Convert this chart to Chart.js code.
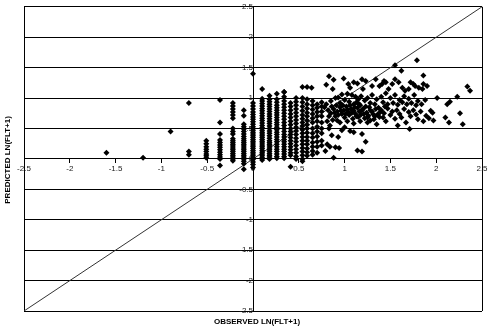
<!DOCTYPE html>
<html>
<head>
<meta charset="utf-8">
<script src="https://cdn.jsdelivr.net/npm/chart.js@4"></script>
<style>
  html, body { margin: 0; padding: 0; background: #fff; }
  #wrap { width: 498px; height: 332px; }
</style>
</head>
<body>
<div id="wrap"><canvas id="chart" width="498" height="332"></canvas></div>
<script>
// ─── Data ────────────────────────────────────────────────────────────────────

const X_TITLE = 'OBSERVED LN(FLT+1)';
const Y_TITLE = 'PREDICTED LN(FLT+1)';

const tickValues = [-2.5, -2, -1.5, -1, -0.5, 0, 0.5, 1, 1.5, 2, 2.5];
const tickLabels = ['-2.5', '-2', '-1.5', '-1', '-0.5', '0', '0.5', '1', '1.5', '2', '2.5'];

// 1:1 reference line
const diagX = [-2.5, 2.5];
const diagY = [-2.5, 2.5];

// vertical stacks of points (discrete observed values)
const colX = [-0.7, -0.51, -0.36, -0.22, -0.1, 0, 0.1, 0.18, 0.26, 0.34, 0.41, 0.47, 0.54, 0.59, 0.65, 0.7, 0.75];
const colY = [
  [0.92, 0.12, 0.07],
  [0.3, 0.25, 0.2, 0.16, 0.12, 0.08, 0.05, 0.02],
  [0.97, 0.6, 0.41, 0.31, 0.27, 0.23, 0.19, 0.15, 0.11, 0.07, 0.03, 0.0, -0.11],
  [0.92, 0.87, 0.82, 0.77, 0.72, 0.67, 0.5, 0.45, 0.41, 0.33, 0.3, 0.27, 0.24, 0.21, 0.18, 0.15, 0.12, 0.09, 0.06, 0.03, 0.0, -0.03],
  [0.8, 0.71, 0.57, 0.53, 0.49, 0.45, 0.41, 0.37, 0.33, 0.3, 0.27, 0.24, 0.21, 0.18, 0.15, 0.12, 0.09, 0.06, 0.03, 0.0, -0.04, -0.08, -0.17],
  [1.4, 0.92, 0.87, 0.82, 0.77, 0.73, 0.69, 0.65, 0.61, 0.57, 0.53, 0.5, 0.47, 0.44, 0.41, 0.38, 0.35, 0.32, 0.29, 0.26, 0.23, 0.2, 0.17, 0.14, 0.11, 0.08, 0.05, 0.02, -0.01, -0.05, -0.09, -0.14],
  [1.15, 0.99, 0.95, 0.91, 0.87, 0.83, 0.79, 0.75, 0.71, 0.67, 0.63, 0.59, 0.55, 0.51, 0.47, 0.44, 0.41, 0.38, 0.35, 0.32, 0.29, 0.26, 0.23, 0.2, 0.17, 0.14, 0.11, 0.08, 0.05, 0.02, -0.02],
  [1.04, 0.98, 0.94, 0.9, 0.86, 0.82, 0.78, 0.74, 0.7, 0.66, 0.62, 0.58, 0.54, 0.5, 0.46, 0.42, 0.38, 0.34, 0.3, 0.27, 0.24, 0.21, 0.18, 0.15, 0.12, 0.09, 0.06, 0.03, 0.0],
  [1.07, 0.98, 0.93, 0.88, 0.84, 0.8, 0.76, 0.72, 0.68, 0.64, 0.6, 0.56, 0.52, 0.48, 0.44, 0.4, 0.36, 0.32, 0.28, 0.24, 0.2, 0.16, 0.12, 0.08, 0.04, 0.01],
  [1.1, 1.02, 0.95, 0.9, 0.85, 0.8, 0.75, 0.7, 0.65, 0.6, 0.55, 0.5, 0.45, 0.4, 0.36, 0.32, 0.28, 0.24, 0.2, 0.16, 0.12, 0.08, 0.04, 0.01],
  [0.92, 0.86, 0.8, 0.74, 0.68, 0.62, 0.56, 0.5, 0.45, 0.4, 0.35, 0.3, 0.25, 0.2, 0.15, 0.1, 0.06, -0.13],
  [1.0, 0.94, 0.88, 0.82, 0.76, 0.7, 0.64, 0.58, 0.52, 0.46, 0.4, 0.34, 0.28, 0.22, 0.16, 0.1, 0.04, 0.0],
  [1.18, 1.0, 0.93, 0.86, 0.79, 0.72, 0.66, 0.6, 0.54, 0.48, 0.42, 0.36, 0.3, 0.24, 0.18, 0.12, 0.06, 0.0, -0.04],
  [1.18, 0.98, 0.9, 0.83, 0.76, 0.7, 0.63, 0.56, 0.5, 0.43, 0.36, 0.3, 0.24, 0.17, 0.11, 0.05],
  [0.95, 0.88, 0.81, 0.74, 0.67, 0.6, 0.5, 0.42, 0.35, 0.27, 0.2, 0.13, 0.07],
  [0.9, 0.84, 0.77, 0.7, 0.62, 0.53, 0.45, 0.37, 0.28, 0.2, 0.1],
  [0.93, 0.86, 0.78, 0.7, 0.6, 0.5, 0.42, 0.3, 0.22]
];

// scattered points [observed, predicted]
const cloud = [
  [-1.6, 0.1], [-1.2, 0.02], [-0.9, 0.45],
  [0.34, 1.1], [0.64, 1.17], [0.83, 1.36], [0.88, 1.3], [0.8, 1.22], [0.87, 1.15],
  [0.99, 1.32], [1.1, 1.26], [1.06, 1.17], [1.04, 1.23], [1.14, 1.24], [1.19, 1.31],
  [1.23, 1.28], [1.34, 1.31], [1.3, 1.2], [1.38, 1.2], [1.43, 1.28], [1.45, 1.26],
  [1.41, 1.23], [1.55, 1.54], [1.62, 1.45], [1.79, 1.62], [1.86, 1.37], [1.55, 1.31],
  [1.59, 1.26], [1.52, 1.23], [1.72, 1.26], [1.75, 1.23], [1.77, 1.2], [1.81, 1.17],
  [1.86, 1.23], [1.9, 1.2], [1.85, 1.15], [1.7, 1.15], [1.66, 1.12], [1.63, 1.17],
  [2.34, 1.19], [2.37, 1.12], [1.48, 1.15], [1.2, 1.15], [0.97, 1.06], [0.93, 1.01],
  [2.01, 1.0], [2.12, 0.9], [2.15, 0.94], [2.23, 1.02], [1.03, 1.07], [1.08, 1.05],
  [1.12, 1.02], [1.15, 0.98], [1.18, 1.03], [1.22, 0.96], [1.25, 1.0], [1.3, 1.05],
  [1.35, 0.98], [1.4, 1.02], [1.45, 1.08], [1.5, 1.0], [1.55, 1.05], [1.6, 0.97],
  [1.65, 1.03], [1.7, 0.99], [1.76, 1.05], [1.8, 0.95], [1.88, 0.97], [0.85, 0.95],
  [0.9, 1.0], [0.95, 0.92], [1.0, 0.97], [1.05, 0.94], [1.1, 0.9], [1.13, 0.93],
  [1.17, 0.88], [1.28, 0.92], [1.33, 0.9], [1.42, 0.93], [1.47, 0.9], [1.53, 0.92],
  [1.58, 0.89], [1.63, 0.93], [1.68, 0.9], [1.73, 0.92], [1.78, 0.88], [1.84, 0.9],
  [0.78, 0.85], [0.82, 0.8], [0.85, 0.75], [0.88, 0.82], [0.9, 0.7], [0.92, 0.78],
  [0.95, 0.85], [0.97, 0.74], [0.99, 0.8], [1.0, 0.68], [1.02, 0.86], [1.04, 0.77],
  [1.05, 0.72], [1.07, 0.82], [1.09, 0.66], [1.1, 0.79], [1.12, 0.74], [1.14, 0.84],
  [1.15, 0.69], [1.16, 0.78], [1.18, 0.73], [1.2, 0.82], [1.22, 0.67], [1.24, 0.76],
  [1.26, 0.71], [1.27, 0.85], [1.3, 0.78], [1.32, 0.65], [1.34, 0.82], [1.36, 0.73],
  [1.38, 0.69], [1.4, 0.8], [1.43, 0.75], [1.45, 0.62], [1.47, 0.83], [1.5, 0.72],
  [1.52, 0.78], [1.55, 0.66], [1.57, 0.8], [1.6, 0.74], [1.62, 0.68], [1.65, 0.82],
  [1.67, 0.6], [1.7, 0.77], [1.72, 0.7], [1.75, 0.8], [1.78, 0.73], [1.8, 0.65],
  [1.83, 0.78], [1.86, 0.62], [1.89, 0.71], [1.92, 0.67], [1.94, 0.79], [1.96, 0.76],
  [1.97, 0.63], [2.1, 0.68], [2.14, 0.6], [2.26, 0.75], [2.29, 0.57], [1.71, 0.49],
  [1.25, 0.6], [1.1, 0.58], [0.95, 0.6], [0.87, 0.64], [1.35, 0.57], [1.58, 0.55],
  [0.8, 0.9], [0.83, 0.7], [0.86, 0.86], [0.89, 0.76], [0.91, 0.88], [0.93, 0.72],
  [0.96, 0.79], [0.98, 0.88], [1.01, 0.74], [1.03, 0.81], [1.06, 0.88], [1.08, 0.76],
  [1.11, 0.85], [1.13, 0.7], [1.16, 0.9], [1.19, 0.8], [1.21, 0.74], [1.23, 0.86],
  [1.25, 0.68], [1.28, 0.8], [1.31, 0.74], [1.33, 0.7], [1.37, 0.84], [1.39, 0.77],
  [1.42, 0.68], [1.44, 0.86], [0.81, 0.62], [0.84, 0.55], [0.92, 0.63], [1.03, 0.62],
  [1.17, 0.62], [1.28, 0.63],
  [0.81, 0.24], [0.9, 0.19], [0.94, 0.18], [0.97, 0.47], [1.06, 0.46], [1.19, 0.41],
  [1.23, 0.28], [1.14, 0.14], [1.19, 0.12], [1.1, 0.44], [0.88, 0.02], [0.79, 0.13],
  [0.86, 0.39], [0.93, 0.36], [0.83, 0.5], [1.0, 0.52], [0.84, 0.2]
];

// ─── Helpers ─────────────────────────────────────────────────────────────────

const FONT = "'Liberation Sans', Arial, sans-serif";

function buildPoints() {
  const pts = [];
  colX.forEach((x, i) => colY[i].forEach(y => pts.push({ x, y })));
  cloud.forEach(([x, y]) => pts.push({ x, y }));
  return pts;
}

function setTicks(scale) {
  scale.ticks = tickValues.map(v => ({ value: v }));
}

function tickLabel(value) {
  const i = tickValues.indexOf(value);
  return i >= 0 ? tickLabels[i] : '';
}

const axisTitles = {
  id: 'axisTitles',
  afterDraw(chart) {
    const { ctx, chartArea } = chart;
    ctx.save();
    ctx.fillStyle = '#000';
    ctx.font = 'bold 8px ' + FONT;
    ctx.textAlign = 'center';
    ctx.textBaseline = 'middle';
    ctx.fillText(X_TITLE, (chartArea.left + chartArea.right) / 2 + 4, chartArea.bottom + 11);
    ctx.translate(8, (chartArea.top + chartArea.bottom) / 2 + 1);
    ctx.rotate(-Math.PI / 2);
    ctx.fillText(Y_TITLE, 0, 0);
    ctx.restore();
  }
};

// ─── Chart ───────────────────────────────────────────────────────────────────

new Chart(document.getElementById('chart'), {
  type: 'scatter',
  data: {
    datasets: [
      {
        label: 'y = x',
        data: diagX.map((x, i) => ({ x, y: diagY[i] })),
        showLine: true,
        borderColor: '#333',
        borderWidth: 1,
        pointRadius: 0,
        order: 2,
      },
      {
        label: 'LN(FLT+1)',
        data: buildPoints(),
        pointStyle: 'rectRot',
        pointRadius: 3,
        backgroundColor: '#000',
        borderWidth: 0,
        order: 1,
      },
    ],
  },
  options: {
    responsive: false,
    animation: false,
    layout: { padding: { left: 24, right: 16, top: 6, bottom: 21 } },
    plugins: { legend: { display: false }, tooltip: { enabled: false } },
    scales: {
      x: {
        type: 'linear',
        min: -2.5,
        max: 2.5,
        position: { y: 0 },
        afterBuildTicks: setTicks,
        afterFit: s => { s.height = 0; },
        ticks: {
          autoSkip: false,
          maxRotation: 0,
          padding: 1,
          color: '#222',
          font: { family: FONT, size: 8 },
          callback: tickLabel,
        },
        grid: {
          color: c => (c.tick && Math.abs(c.tick.value) === 2.5) ? '#000' : 'rgba(0,0,0,0)',
          tickColor: '#000',
          tickLength: 4,
        },
        border: { color: '#000' },
      },
      y: {
        type: 'linear',
        min: -2.5,
        max: 2.5,
        position: { x: 0 },
        afterBuildTicks: setTicks,
        afterFit: s => { s.width = 0; },
        ticks: {
          autoSkip: false,
          padding: 2,
          color: '#222',
          font: { family: FONT, size: 8 },
          callback: tickLabel,
        },
        grid: { color: '#000', drawTicks: false },
        border: { color: '#000' },
      },
    },
  },
  plugins: [axisTitles],
});
</script>
</body>
</html>
